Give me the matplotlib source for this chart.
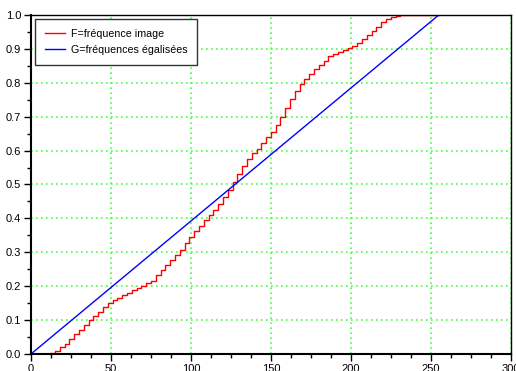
import numpy as np
import matplotlib
matplotlib.use("Agg")
import matplotlib.pyplot as plt
from matplotlib.ticker import MultipleLocator

plt.rcParams['font.family'] = ['Liberation Sans', 'DejaVu Sans']

# grey levels (every 3rd level) and cumulative frequency
levels = np.arange(0, 256, 3)
F_cum = [0.0, 0.0, 0.0, 0.0, 0.003, 0.01, 0.02, 0.03, 0.045, 0.06,
         0.072, 0.085, 0.10, 0.113, 0.125, 0.138, 0.15, 0.16, 0.166, 0.174,
         0.18, 0.188, 0.195, 0.201, 0.208, 0.216, 0.232, 0.248, 0.262, 0.277,
         0.291, 0.308, 0.326, 0.346, 0.362, 0.378, 0.394, 0.41, 0.426, 0.443,
         0.462, 0.484, 0.506, 0.53, 0.553, 0.575, 0.593, 0.606, 0.622, 0.64,
         0.656, 0.676, 0.698, 0.726, 0.752, 0.776, 0.795, 0.81, 0.826, 0.84,
         0.852, 0.864, 0.878, 0.886, 0.892, 0.898, 0.903, 0.908, 0.918, 0.93,
         0.94, 0.952, 0.965, 0.978, 0.988, 0.995, 0.998, 1.0, 1.0, 1.0,
         1.0, 1.0, 1.0, 1.0, 1.0, 1.0]

# equalised target: straight line from (0,0) to (255,1)
G_x = [0, 255]
G_y = [0.0, 1.0]

fig = plt.figure(figsize=(5.16, 3.71), dpi=100)
ax = fig.add_axes([0.060, 0.0458, 0.930, 0.914])

ax.step(levels, F_cum, where='post', color='red', lw=1.0, label='F=fréquence image')
ax.plot(G_x, G_y, color='blue', lw=1.0, label='G=fréquences égalisées')

ax.set_xlim(0, 300)
ax.set_ylim(0, 1.0)
ax.xaxis.set_major_locator(MultipleLocator(50))
ax.xaxis.set_minor_locator(MultipleLocator(12.5))
ax.yaxis.set_major_locator(MultipleLocator(0.1))
ax.yaxis.set_minor_locator(MultipleLocator(0.05))
ax.yaxis.set_major_formatter(plt.FormatStrFormatter('%.1f'))
ax.tick_params(which='both', direction='out', top=False, right=False, labelsize=8, pad=2)
ax.tick_params(which='major', length=5, width=1)
ax.tick_params(which='minor', length=3, width=1)

ax.grid(True, which='major', color='#44ff44', linestyle=(0, (1, 2)), lw=1.2)
for s in ax.spines.values():
    s.set_color('black')
    s.set_linewidth(1.0)
ax.spines['left'].set_linewidth(1.5)
ax.spines['bottom'].set_linewidth(1.5)

leg = ax.legend(loc='upper left', fontsize=7.7, fancybox=False, framealpha=1,
                edgecolor='#333333', borderaxespad=0.4, handlelength=1.9,
                handletextpad=0.5, borderpad=0.9, labelspacing=0.6)
leg.get_frame().set_linewidth(1.0)

fig.savefig('out.png', dpi=100)
